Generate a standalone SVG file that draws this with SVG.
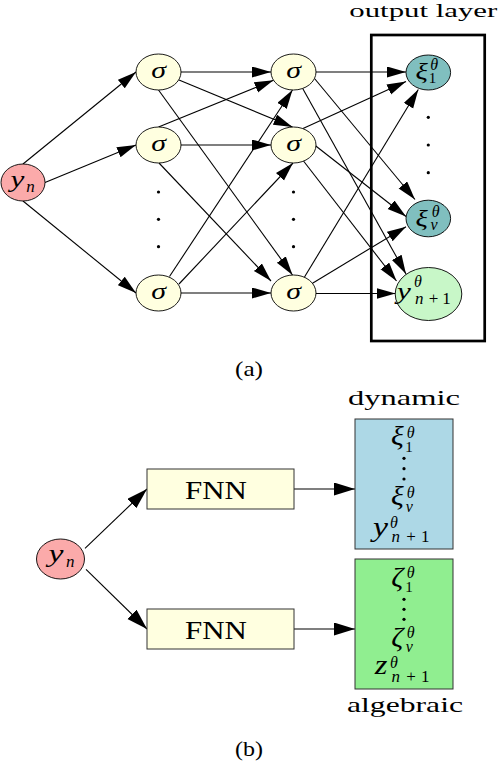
<svg xmlns="http://www.w3.org/2000/svg" width="498" height="764" viewBox="0 0 498 764">
<style>
.n{stroke:#000;stroke-width:0.9}
.sig{fill:#FFFFE0}
.yn{fill:#FBAAAA}
.teal{fill:#80BFBF}
.lg{fill:#C8F7C8}
.e{stroke:#000;stroke-width:1.1;fill:none;marker-end:url(#ah)}
.eb{stroke:#000;stroke-width:1.1;fill:none;marker-end:url(#ahb)}
text{font-family:"Liberation Serif","Times New Roman",serif;fill:#000}
.m{font-style:italic}
.c{text-anchor:middle}
.dot{fill:#000}
</style>
<defs>
<marker id="ah" markerUnits="userSpaceOnUse" markerWidth="20" markerHeight="12" refX="19" refY="5.5" orient="auto">
<path d="M0,0 L19,5.5 L0,11 z" fill="#000"/>
</marker>
<marker id="ahb" markerUnits="userSpaceOnUse" markerWidth="22" markerHeight="14" refX="21" refY="6.5" orient="auto">
<path d="M0,0 L21,6.5 L0,13 z" fill="#000"/>
</marker>
</defs>

<!-- (a) -->
<text class="c" x="423.3" y="17" font-size="19" textLength="148" lengthAdjust="spacingAndGlyphs">output layer</text>
<rect x="371.3" y="35" width="113.4" height="306" fill="none" stroke="#000" stroke-width="2.7"/>

<g id="connectors-a">
<line class="e" x1="23" y1="164" x2="136" y2="72"/>
<line class="e" x1="45" y1="182.5" x2="136" y2="145"/>
<line class="e" x1="23" y1="201" x2="136" y2="293"/>

<line class="e" x1="181" y1="72" x2="271" y2="72"/>
<line class="e" x1="179" y1="80" x2="292.5" y2="127"/>
<line class="e" x1="158.5" y1="90" x2="292.5" y2="275"/>
<line class="e" x1="158.5" y1="127" x2="273.5" y2="80.2"/>
<line class="e" x1="181" y1="145" x2="271" y2="145"/>
<line class="e" x1="159" y1="163" x2="271" y2="281"/>
<line class="e" x1="169.5" y1="276.5" x2="292.5" y2="90"/>
<line class="e" x1="179" y1="284" x2="293" y2="163"/>
<line class="e" x1="181" y1="293" x2="271" y2="293"/>

<line class="e" x1="316" y1="72" x2="406" y2="72"/>
<line class="e" x1="314.5" y1="78.5" x2="415" y2="199.5"/>
<line class="e" x1="302.7" y1="88.4" x2="406" y2="274"/>
<line class="e" x1="303" y1="128.5" x2="406" y2="81.5"/>
<line class="e" x1="315.5" y1="145.7" x2="406" y2="216.5"/>
<line class="e" x1="303.5" y1="161" x2="396.5" y2="281"/>
<line class="e" x1="304.5" y1="277" x2="418.3" y2="89.5"/>
<line class="e" x1="312.5" y1="283.2" x2="406" y2="226.7"/>
<line class="e" x1="316" y1="293.5" x2="395.5" y2="293.5"/>
</g>

<g id="yn-a">
<ellipse class="n yn" cx="23" cy="182.5" rx="22" ry="18.5"/>
<text class="m c" transform="translate(17.5,187) scale(1.3,1)" font-size="24">y</text>
<text class="m c" x="30.5" y="191.5" font-size="17">n</text>
</g>

<g id="s1a"><ellipse class="n sig" cx="158.5" cy="72" rx="22.5" ry="18"/><text class="m c" transform="translate(158.5,77.5) scale(1.3,1)" font-size="23">σ</text></g>
<g id="s2a"><ellipse class="n sig" cx="158.5" cy="145" rx="22.5" ry="18"/><text class="m c" transform="translate(158.5,150.5) scale(1.3,1)" font-size="23">σ</text></g>
<g id="s3a"><ellipse class="n sig" cx="158.5" cy="293" rx="22.5" ry="18"/><text class="m c" transform="translate(158.5,298.5) scale(1.3,1)" font-size="23">σ</text></g>
<g id="s1b"><ellipse class="n sig" cx="293.5" cy="72" rx="22.5" ry="18"/><text class="m c" transform="translate(293.5,77.5) scale(1.3,1)" font-size="23">σ</text></g>
<g id="s2b"><ellipse class="n sig" cx="293.5" cy="145" rx="22.5" ry="18"/><text class="m c" transform="translate(293.5,150.5) scale(1.3,1)" font-size="23">σ</text></g>
<g id="s3b"><ellipse class="n sig" cx="293.5" cy="293" rx="22.5" ry="18"/><text class="m c" transform="translate(293.5,298.5) scale(1.3,1)" font-size="23">σ</text></g>

<g id="dots-a">
<circle class="dot" cx="158.5" cy="192" r="1.6"/>
<circle class="dot" cx="158.5" cy="219.3" r="1.6"/>
<circle class="dot" cx="158.5" cy="246.7" r="1.6"/>
<circle class="dot" cx="293.5" cy="192" r="1.6"/>
<circle class="dot" cx="293.5" cy="219.3" r="1.6"/>
<circle class="dot" cx="293.5" cy="246.7" r="1.6"/>
<circle class="dot" cx="428.3" cy="117.3" r="1.6"/>
<circle class="dot" cx="428.3" cy="145" r="1.6"/>
<circle class="dot" cx="428.3" cy="172.7" r="1.6"/>
</g>

<g id="xi1">
<ellipse class="n teal" cx="428.3" cy="72.5" rx="22.3" ry="17.5"/>
<text class="m c" transform="translate(421.7,79) scale(1.25,1)" font-size="23">ξ</text>
<text class="m c" x="434.2" y="69.5" font-size="16">θ</text>
<text class="c" x="432.5" y="83.3" font-size="15">1</text>
</g>
<g id="xinu">
<ellipse class="n teal" cx="428.3" cy="218.5" rx="22.3" ry="18.3"/>
<text class="m c" transform="translate(421.7,226) scale(1.25,1)" font-size="23">ξ</text>
<text class="m c" x="435.8" y="216.5" font-size="16">θ</text>
<text class="m c" x="434" y="230" font-size="16">ν</text>
</g>
<g id="ynp1">
<ellipse class="n lg" cx="428.5" cy="294" rx="33.3" ry="26.5"/>
<text class="m c" transform="translate(404,299) scale(1.3,1)" font-size="24">y</text>
<text class="m c" x="418" y="287" font-size="16">θ</text>
<text class="m c" x="419.2" y="304" font-size="17">n</text>
<text class="c" x="433.5" y="304" font-size="17">+</text>
<text class="c" x="446.5" y="304" font-size="17">1</text>
</g>

<text class="c" x="249" y="376" font-size="21" textLength="28" lengthAdjust="spacingAndGlyphs">(a)</text>

<!-- (b) -->
<g id="connectors-b">
<line class="eb" x1="85" y1="548.3" x2="147" y2="489"/>
<line class="eb" x1="86" y1="569.3" x2="147" y2="629"/>
<line class="eb" x1="294" y1="489" x2="355" y2="489"/>
<line class="eb" x1="294" y1="629" x2="355" y2="629"/>
</g>

<g id="yn-b">
<ellipse class="n yn" cx="60.5" cy="559" rx="24" ry="20"/>
<text class="m c" transform="translate(56,562) scale(1.35,1)" font-size="25">y</text>
<text class="m c" x="70.3" y="566.7" font-size="17">n</text>
</g>

<g id="fnn1">
<rect x="147" y="469" width="147" height="40" fill="#FFFFE0" stroke="#333" stroke-width="1"/>
<text class="c" x="216" y="499" font-size="25" textLength="62" lengthAdjust="spacingAndGlyphs">FNN</text>
</g>
<g id="fnn2">
<rect x="147" y="609" width="147" height="40" fill="#FFFFE0" stroke="#333" stroke-width="1"/>
<text class="c" x="216" y="639" font-size="25" textLength="62" lengthAdjust="spacingAndGlyphs">FNN</text>
</g>

<text class="c" x="404" y="405" font-size="22" textLength="112" lengthAdjust="spacingAndGlyphs">dynamic</text>
<g id="dyn">
<rect x="355" y="419" width="98" height="130" fill="#ADD8E6" stroke="#333" stroke-width="1"/>
<text class="m c" transform="translate(397.3,444.5) scale(1.1,1)" font-size="27">ξ</text>
<text class="m c" x="410.8" y="438" font-size="16">θ</text>
<text class="c" x="409" y="451.7" font-size="15">1</text>
<circle class="dot" cx="404" cy="458.3" r="1.6"/>
<circle class="dot" cx="404" cy="468.7" r="1.6"/>
<circle class="dot" cx="404" cy="479" r="1.6"/>
<text class="m c" transform="translate(397.3,504.5) scale(1.1,1)" font-size="27">ξ</text>
<text class="m c" x="410.8" y="498" font-size="16">θ</text>
<text class="m c" x="409.2" y="511.7" font-size="16">ν</text>
<text class="m c" transform="translate(380.5,536) scale(1.25,1)" font-size="27">y</text>
<text class="m c" x="394" y="527.5" font-size="16">θ</text>
<text class="m c" x="395.8" y="541.7" font-size="17">n</text>
<text class="c" x="411" y="541.7" font-size="17">+</text>
<text class="c" x="425.2" y="541.7" font-size="17">1</text>
</g>

<g id="alg">
<rect x="355" y="559" width="98" height="130" fill="#90EE90" stroke="#333" stroke-width="1"/>
<text class="m c" transform="translate(397.3,586) scale(1.1,1)" font-size="27">ζ</text>
<text class="m c" x="410.8" y="578" font-size="16">θ</text>
<text class="c" x="409" y="591.7" font-size="15">1</text>
<circle class="dot" cx="404" cy="599.3" r="1.6"/>
<circle class="dot" cx="404" cy="609.3" r="1.6"/>
<circle class="dot" cx="404" cy="619.3" r="1.6"/>
<text class="m c" transform="translate(397.3,646) scale(1.1,1)" font-size="27">ζ</text>
<text class="m c" x="410.8" y="638" font-size="16">θ</text>
<text class="m c" x="409.2" y="651.7" font-size="16">ν</text>
<text class="m c" transform="translate(381,674) scale(1.2,1)" font-size="27">z</text>
<text class="m c" x="394" y="667.5" font-size="16">θ</text>
<text class="m c" x="395.8" y="681.7" font-size="17">n</text>
<text class="c" x="411" y="681.7" font-size="17">+</text>
<text class="c" x="425.2" y="681.7" font-size="17">1</text>
</g>
<text class="c" x="405" y="712" font-size="22" textLength="116" lengthAdjust="spacingAndGlyphs">algebraic</text>

<text class="c" x="249" y="756" font-size="21" textLength="28" lengthAdjust="spacingAndGlyphs">(b)</text>
</svg>
